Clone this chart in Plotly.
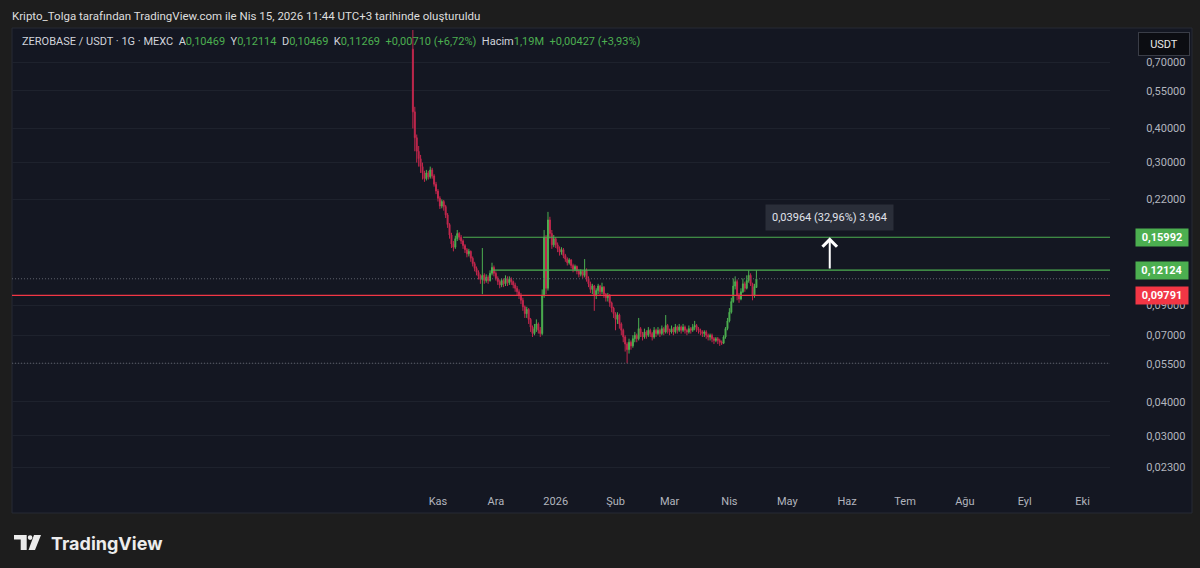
import math
import pandas as pd
import plotly.graph_objects as go

# ---------------- data ----------------
dates = pd.date_range("2025-10-19", "2026-04-15", freq="D")

opens = [0.78, 0.46, 0.37, 0.33, 0.31, 0.29, 0.275, 0.262, 0.275, 0.266,
         0.282, 0.268, 0.25, 0.236, 0.222, 0.208, 0.216, 0.207, 0.193, 0.178,
         0.163, 0.151, 0.147, 0.158, 0.165, 0.16, 0.155, 0.149, 0.144, 0.139,
         0.142, 0.134, 0.128, 0.123, 0.119, 0.115, 0.112, 0.116, 0.111, 0.114,
         0.111, 0.118, 0.124, 0.118, 0.113, 0.110, 0.107, 0.111, 0.108, 0.113,
         0.109, 0.112, 0.110, 0.107, 0.104, 0.101, 0.098, 0.094, 0.089, 0.084,
         0.087, 0.080, 0.075, 0.071, 0.074, 0.077, 0.073, 0.071, 0.098, 0.160,
         0.104, 0.185, 0.165, 0.150, 0.158, 0.150, 0.145, 0.141, 0.144, 0.137,
         0.133, 0.129, 0.132, 0.126, 0.122, 0.125, 0.120, 0.117, 0.120, 0.116,
         0.121, 0.113, 0.108, 0.103, 0.106, 0.098, 0.102, 0.106, 0.101, 0.105,
         0.099, 0.096, 0.098, 0.092, 0.088, 0.084, 0.080, 0.083, 0.077, 0.073,
         0.069, 0.065, 0.062, 0.066, 0.064, 0.068, 0.070, 0.068, 0.074, 0.071,
         0.069, 0.072, 0.070, 0.073, 0.071, 0.069, 0.073, 0.071, 0.073, 0.071,
         0.074, 0.072, 0.076, 0.073, 0.072, 0.074, 0.072, 0.075, 0.073, 0.075,
         0.073, 0.075, 0.073, 0.072, 0.074, 0.073, 0.075, 0.076, 0.074, 0.073,
         0.072, 0.071, 0.072, 0.070, 0.069, 0.070, 0.068, 0.067, 0.068, 0.067,
         0.066, 0.0655, 0.069, 0.074, 0.079, 0.085, 0.093, 0.106, 0.110, 0.098,
         0.095, 0.101, 0.108, 0.104, 0.111, 0.116, 0.108, 0.098, 0.10469]

highs = [1.0, 0.48, 0.38, 0.345, 0.32, 0.30, 0.28, 0.282, 0.28, 0.29,
         0.287, 0.272, 0.255, 0.24, 0.226, 0.22, 0.219, 0.21, 0.196, 0.18,
         0.166, 0.155, 0.162, 0.17, 0.167, 0.163, 0.157, 0.151, 0.146, 0.145,
         0.143, 0.136, 0.13, 0.125, 0.121, 0.117, 0.146, 0.118, 0.117, 0.116,
         0.121, 0.129, 0.126, 0.12, 0.115, 0.112, 0.113, 0.113, 0.116, 0.115,
         0.115, 0.114, 0.111, 0.109, 0.106, 0.103, 0.1, 0.096, 0.09, 0.089,
         0.088, 0.081, 0.076, 0.077, 0.08, 0.078, 0.075, 0.103, 0.17, 0.163,
         0.198, 0.19, 0.17, 0.163, 0.16, 0.153, 0.148, 0.147, 0.146, 0.139,
         0.135, 0.134, 0.133, 0.128, 0.127, 0.126, 0.122, 0.122, 0.121, 0.133,
         0.123, 0.115, 0.11, 0.108, 0.107, 0.104, 0.108, 0.107, 0.109, 0.106,
         0.1, 0.1, 0.099, 0.093, 0.089, 0.085, 0.085, 0.084, 0.078, 0.074,
         0.07, 0.066, 0.068, 0.067, 0.07, 0.072, 0.071, 0.081, 0.075, 0.072,
         0.074, 0.073, 0.075, 0.074, 0.072, 0.075, 0.074, 0.075, 0.074, 0.076,
         0.075, 0.083, 0.077, 0.074, 0.076, 0.075, 0.077, 0.076, 0.077, 0.076,
         0.077, 0.076, 0.074, 0.076, 0.075, 0.077, 0.079, 0.077, 0.075, 0.074,
         0.073, 0.073, 0.073, 0.071, 0.071, 0.071, 0.069, 0.069, 0.069, 0.068,
         0.067, 0.070, 0.075, 0.081, 0.088, 0.096, 0.113, 0.115, 0.112, 0.1,
         0.104, 0.113, 0.11, 0.116, 0.121, 0.118, 0.109, 0.108, 0.12114]

lows = [0.40, 0.33, 0.30, 0.29, 0.275, 0.26, 0.255, 0.258, 0.26, 0.262,
        0.262, 0.245, 0.23, 0.216, 0.203, 0.204, 0.2, 0.188, 0.173, 0.158,
        0.146, 0.142, 0.145, 0.155, 0.156, 0.151, 0.145, 0.14, 0.135, 0.136,
        0.13, 0.125, 0.12, 0.116, 0.112, 0.108, 0.099, 0.108, 0.109, 0.108,
        0.11, 0.116, 0.115, 0.111, 0.107, 0.104, 0.105, 0.105, 0.106, 0.106,
        0.107, 0.107, 0.104, 0.101, 0.098, 0.095, 0.091, 0.086, 0.081, 0.081,
        0.077, 0.072, 0.069, 0.07, 0.072, 0.071, 0.069, 0.070, 0.096, 0.099,
        0.102, 0.158, 0.145, 0.147, 0.146, 0.141, 0.137, 0.138, 0.134, 0.13,
        0.126, 0.127, 0.123, 0.119, 0.12, 0.117, 0.114, 0.115, 0.113, 0.114,
        0.11, 0.105, 0.1, 0.099, 0.086, 0.095, 0.099, 0.098, 0.099, 0.096,
        0.093, 0.093, 0.089, 0.085, 0.081, 0.073, 0.077, 0.074, 0.07, 0.066,
        0.061, 0.0553, 0.06, 0.062, 0.063, 0.066, 0.066, 0.067, 0.069, 0.067,
        0.068, 0.068, 0.069, 0.069, 0.067, 0.068, 0.069, 0.07, 0.069, 0.07,
        0.07, 0.071, 0.071, 0.07, 0.071, 0.07, 0.071, 0.071, 0.072, 0.071,
        0.072, 0.071, 0.07, 0.071, 0.071, 0.072, 0.073, 0.072, 0.071, 0.07,
        0.069, 0.069, 0.068, 0.067, 0.067, 0.066, 0.065, 0.066, 0.065, 0.064,
        0.0645, 0.065, 0.068, 0.073, 0.078, 0.084, 0.092, 0.103, 0.094, 0.092,
        0.094, 0.1, 0.101, 0.103, 0.109, 0.106, 0.094, 0.096, 0.10469]

closes = [0.46, 0.37, 0.33, 0.31, 0.29, 0.275, 0.262, 0.275, 0.266, 0.282,
          0.268, 0.25, 0.236, 0.222, 0.208, 0.216, 0.207, 0.193, 0.178, 0.163,
          0.151, 0.147, 0.158, 0.165, 0.16, 0.155, 0.149, 0.144, 0.139, 0.142,
          0.134, 0.128, 0.123, 0.119, 0.115, 0.112, 0.116, 0.111, 0.114, 0.111,
          0.118, 0.124, 0.118, 0.113, 0.110, 0.107, 0.111, 0.108, 0.113, 0.109,
          0.112, 0.110, 0.107, 0.104, 0.101, 0.098, 0.094, 0.089, 0.084, 0.087,
          0.080, 0.075, 0.071, 0.074, 0.077, 0.073, 0.071, 0.098, 0.160, 0.104,
          0.185, 0.165, 0.150, 0.158, 0.150, 0.145, 0.141, 0.144, 0.137, 0.133,
          0.129, 0.132, 0.126, 0.122, 0.125, 0.120, 0.117, 0.120, 0.116, 0.121,
          0.113, 0.108, 0.103, 0.106, 0.098, 0.102, 0.106, 0.101, 0.105, 0.099,
          0.096, 0.098, 0.092, 0.088, 0.084, 0.080, 0.083, 0.077, 0.073, 0.069,
          0.065, 0.062, 0.066, 0.064, 0.068, 0.070, 0.068, 0.074, 0.071, 0.069,
          0.072, 0.070, 0.073, 0.071, 0.069, 0.073, 0.071, 0.073, 0.071, 0.074,
          0.072, 0.076, 0.073, 0.072, 0.074, 0.072, 0.075, 0.073, 0.075, 0.073,
          0.075, 0.073, 0.072, 0.074, 0.073, 0.075, 0.076, 0.074, 0.073, 0.072,
          0.071, 0.072, 0.070, 0.069, 0.070, 0.068, 0.067, 0.068, 0.067, 0.066,
          0.0655, 0.069, 0.074, 0.079, 0.085, 0.093, 0.106, 0.110, 0.098, 0.095,
          0.101, 0.108, 0.104, 0.111, 0.116, 0.108, 0.098, 0.10559, 0.11269]

month_ticks = ["2025-11-01", "2025-12-01", "2026-01-01", "2026-02-01", "2026-03-01",
               "2026-04-01", "2026-05-01", "2026-06-01", "2026-07-01", "2026-08-01",
               "2026-09-01", "2026-10-01"]
month_labels = ["Kas", "Ara", "2026", "Şub", "Mar", "Nis", "May", "Haz", "Tem",
                "Ağu", "Eyl", "Eki"]
price_ticks = [0.023, 0.03, 0.04, 0.055, 0.07, 0.09, 0.22, 0.30, 0.40, 0.55, 0.70]

level_top = 0.15992
level_mid = 0.12124
level_red = 0.09791
level_low = 0.0553
level_top_start = "2025-11-14"
level_mid_start = "2025-11-29"
arrow_date = "2026-05-23"
measure_text = "0,03964 (32,96%) 3.964"
volume_text = "1,19M"
volume_change = "+0,00427 (+3,93%)"

x_range = ["2025-03-25 07:00", "2026-10-15 05:00"]
y_range = [0.019, 0.917]

# ---------------- style / layout ----------------
W, H = 1200, 568
L, R, T, B = 12, 90, 30, 78
PW, PH = W - L - R, H - T - B


def px(x):
    return (x - L) / PW


def py(y):
    return (H - B - y) / PH


def fmt(v):
    return f"{v:.5f}".replace(".", ",")


GREEN = "#4caf50"
RED_C = "#c2274d"
RED_L = "#f23645"
OUTER = "#1d1d1d"
PANEL = "#141722"
TXT = "#b2b5be"
FONT = "Roboto, 'Open Sans', sans-serif"

fig = go.Figure()

fig.add_trace(go.Candlestick(
    x=dates, open=opens, high=highs, low=lows, close=closes,
    increasing=dict(line=dict(color=GREEN, width=1), fillcolor=GREEN),
    decreasing=dict(line=dict(color=RED_C, width=1), fillcolor=RED_C),
    whiskerwidth=0, showlegend=False, hoverinfo="skip",
))

# horizontal drawings
fig.add_trace(go.Scatter(x=[x_range[0], x_range[1]], y=[level_low, level_low], mode="lines",
                         line=dict(color="#5d606b", width=1, dash="1px,2px"),
                         showlegend=False, hoverinfo="skip"))
fig.add_trace(go.Scatter(x=[x_range[0], x_range[1]], y=[closes[-1], closes[-1]], mode="lines",
                         line=dict(color="#5d606b", width=1, dash="1px,2px"),
                         showlegend=False, hoverinfo="skip"))
fig.add_trace(go.Scatter(x=[x_range[0], x_range[1]], y=[level_red, level_red], mode="lines",
                         line=dict(color=RED_L, width=1.3),
                         showlegend=False, hoverinfo="skip"))
fig.add_trace(go.Scatter(x=[level_top_start, x_range[1]], y=[level_top, level_top], mode="lines",
                         line=dict(color=GREEN, width=1.2),
                         showlegend=False, hoverinfo="skip"))
fig.add_trace(go.Scatter(x=[level_mid_start, x_range[1]], y=[level_mid, level_mid], mode="lines",
                         line=dict(color=GREEN, width=1.2),
                         showlegend=False, hoverinfo="skip"))

shapes = [
    # chart panel
    dict(type="rect", xref="paper", yref="paper", x0=px(12), x1=px(1192), y0=py(513), y1=py(28),
         fillcolor=PANEL, line=dict(color="#262a35", width=1), layer="below"),
]

# TradingView logo
logo_color = "#ececec"
shapes.append(dict(type="path", xref="paper", yref="paper",
                   path=f"M {px(14)},{py(535)} L {px(26.7)},{py(535)} L {px(26.7)},{py(550)} "
                        f"L {px(20.7)},{py(550)} L {px(20.7)},{py(539.5)} L {px(14)},{py(539.5)} Z",
                   fillcolor=logo_color, line=dict(width=0)))
shapes.append(dict(type="circle", xref="paper", yref="paper",
                   x0=px(27.8), x1=px(32.4), y0=py(540), y1=py(535.2),
                   fillcolor=logo_color, line=dict(width=0)))
shapes.append(dict(type="path", xref="paper", yref="paper",
                   path=f"M {px(34)},{py(535)} L {px(41)},{py(535)} L {px(35)},{py(550)} "
                        f"L {px(28.5)},{py(550)} Z",
                   fillcolor=logo_color, line=dict(width=0)))

annotations = []

# header line
annotations.append(dict(
    xref="paper", yref="paper", x=px(10), y=py(16), xanchor="left", yanchor="middle",
    text="Kripto_Tolga tarafından TradingView.com ile Nis 15, 2026 11:44 UTC+3 tarihinde oluşturuldu",
    showarrow=False, font=dict(family=FONT, size=11.5, color="#dedede")))

# legend row
g = lambda s: f"<span style='color:{GREEN}'>{s}</span>"
chg = closes[-1] - closes[-2]
pct = chg / closes[-2] * 100
sp = "\u00a0\u00a0"
legend = ("ZEROBASE / USDT · 1G · MEXC" + sp +
          "A" + g(fmt(opens[-1])) + sp +
          "Y" + g(fmt(highs[-1])) + sp +
          "D" + g(fmt(lows[-1])) + sp +
          "K" + g(fmt(closes[-1])) + sp +
          g(f"+{fmt(chg)} (+{pct:.2f}%)".replace(".", ",")) + sp +
          "Hacim" + g(volume_text) + sp + g(volume_change))
annotations.append(dict(
    xref="paper", yref="paper", x=px(20), y=py(42), xanchor="left", yanchor="middle",
    text=legend, showarrow=False, font=dict(family=FONT, size=11, color="#d1d4dc")))

# USDT box
annotations.append(dict(
    xref="paper", yref="paper", x=px(1164), y=py(44), xanchor="center", yanchor="middle",
    text="USDT", showarrow=False, font=dict(family=FONT, size=11, color="#e8e8e8"),
    bgcolor="#0c0d12", bordercolor="#3a3d47", borderwidth=1, borderpad=3, width=44, height=16))

# price labels on axis
for val, col in [(level_top, GREEN), (level_mid, GREEN), (level_red, RED_L)]:
    annotations.append(dict(
        xref="paper", yref="y", x=px(1162), y=math.log10(val), xanchor="center", yanchor="middle",
        text=f"<b>{fmt(val)}</b>", showarrow=False,
        font=dict(family=FONT, size=11, color="#ffffff"),
        bgcolor=col, borderpad=2, width=48, height=13))

# arrow
annotations.append(dict(
    xref="x", yref="y", x=arrow_date, y=math.log10(level_top),
    axref="x", ayref="y", ax=arrow_date, ay=math.log10(level_mid),
    showarrow=True, arrowhead=4, arrowsize=1.4, arrowwidth=2, arrowcolor="#ffffff", text=""))

# measure label
annotations.append(dict(
    xref="x", yref="paper", x=arrow_date, y=py(217), xanchor="center", yanchor="middle",
    text=measure_text, showarrow=False, font=dict(family=FONT, size=11, color="#e0e3eb"),
    bgcolor="#2a2e39", borderpad=6))

# footer brand
annotations.append(dict(
    xref="paper", yref="paper", x=px(49), y=py(543), xanchor="left", yanchor="middle",
    text="<b>TradingView</b>", showarrow=False,
    font=dict(family="Inter, Lato, sans-serif", size=18, color="#ececec")))

fig.update_layout(
    width=W, height=H,
    margin=dict(l=L, r=R, t=T, b=B),
    paper_bgcolor=OUTER, plot_bgcolor=PANEL,
    shapes=shapes, annotations=annotations,
    showlegend=False,
    font=dict(family=FONT),
    xaxis=dict(type="date", range=x_range, tickvals=month_ticks, ticktext=month_labels,
               showgrid=False, zeroline=False, showline=False,
               ticks="outside", ticklen=1, tickcolor="rgba(0,0,0,0)",
               tickfont=dict(family=FONT, size=11, color=TXT),
               rangeslider=dict(visible=False), fixedrange=True),
    yaxis=dict(type="log", side="right", range=[math.log10(y_range[0]), math.log10(y_range[1])],
               tickvals=price_ticks, ticktext=[fmt(v) for v in price_ticks],
               showgrid=True, gridcolor="#1e222d", gridwidth=1,
               zeroline=False, showline=False,
               ticks="outside", ticklen=33, tickcolor="rgba(0,0,0,0)",
               tickfont=dict(family=FONT, size=11, color=TXT), fixedrange=True),
)

fig.write_html("out.html", config={"displayModeBar": False},
               post_script="document.body.style.margin='0';document.body.style.overflow='hidden';")
